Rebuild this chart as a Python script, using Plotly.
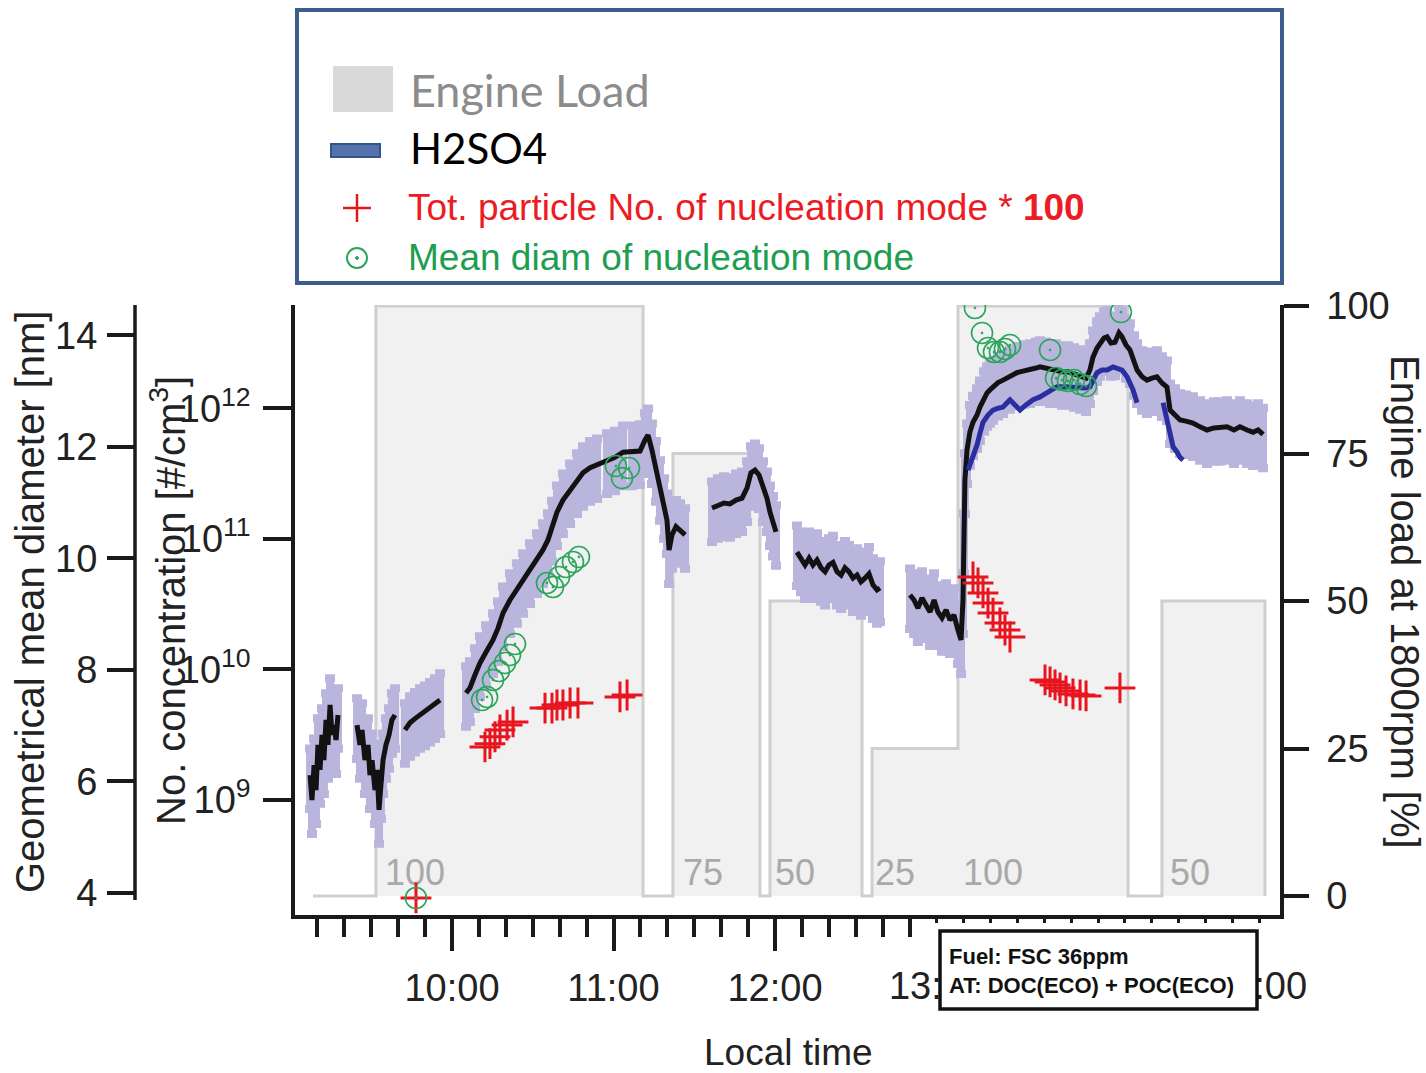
import plotly.graph_objects as go

W, H = 1426, 1073
FONT = "Liberation Sans, Arial, sans-serif"
AX = "#1a1a1a"

# ---------------- data ----------------
# Engine load step profile (local time in decimal hours, % load)
load_time = [9.139, 9.529, 11.183, 11.368, 11.907, 11.969, 12.539, 12.601, 13.133, 14.186, 14.396, 15.034]
load_pct = [0, 100, 0, 75, 0, 50, 0, 25, 100, 0, 50, 0]
load_label_time = [9.771, 11.554, 12.124, 12.743, 13.350, 14.570]
load_label_text = ["100", "75", "50", "25", "100", "50"]

# Total number concentration (black trace, #/cm3); None separates segments
conc_time = [
    9.121, 9.133, 9.146, 9.158, 9.170, 9.183, 9.195, 9.207, 9.220, 9.232, 9.245, 9.257, 9.269, 9.282, 9.294, None,
    9.412, 9.430, 9.443, 9.461, 9.480, 9.492, 9.505, 9.523, 9.536, 9.548, 9.560, 9.573, 9.591, 9.610, 9.628, 9.647, None,
    9.709, 9.740, 9.771, 9.802, 9.833, 9.864, 9.895, 9.926, None,
    10.087, 10.111, 10.142, 10.173, 10.211, 10.254, 10.285, 10.316, 10.359, 10.402, 10.440, 10.483, 10.526, 10.563,
    10.594, 10.619, 10.650, 10.687, 10.731, 10.774, 10.811, 10.855, 10.898, 10.960, 11.009, 11.059, 11.115, 11.164,
    11.195, 11.214, 11.238, 11.263, 11.288, 11.313, 11.331, 11.344, 11.362, 11.387, 11.412, 11.443, None,
    11.610, 11.647, 11.684, 11.721, 11.759, 11.796, 11.827, 11.851, 11.876, 11.901, 11.926, 11.950, 11.969, 11.988, 12.006, None,
    12.136, 12.161, 12.186, 12.211, 12.235, 12.260, 12.285, 12.310, 12.334, 12.359, 12.384, 12.409, 12.433, 12.458,
    12.483, 12.508, 12.532, 12.557, 12.582, 12.607, 12.632, 12.650, None,
    12.836, 12.861, 12.885, 12.910, 12.935, 12.960, 12.985, 13.009, 13.034, 13.059, 13.084, 13.108, 13.133, 13.152,
    13.164, 13.170, 13.176, 13.189, 13.207, 13.226, 13.251, 13.269, 13.294, 13.313, 13.331, 13.350, 13.381, 13.412,
    13.455, 13.498, 13.542, 13.579, 13.616, 13.641, 13.678, 13.703, 13.740, 13.777, 13.814, 13.851, 13.889, 13.926,
    13.950, 13.969, 13.994, 14.012, 14.037, 14.056, 14.080, 14.105, 14.130, 14.149, 14.173, 14.198, 14.223, 14.242,
    14.273, 14.303, 14.334, 14.365, 14.396, 14.427, 14.446, 14.477, 14.508, 14.545, 14.588, 14.632, 14.675, 14.718,
    14.755, 14.799, 14.842, 14.879, 14.923, 14.960, 14.991, 15.022,
]
conc_val = [
    1.55e9, 1.0e9, 1.85e9, 1.19e9, 2.64e9, 1.70e9, 3.15e9, 2.02e9, 4.10e9, 2.64e9, 5.34e9, 3.15e9, 3.75e9, 2.88e9, 4.48e9, None,
    3.75e9, 2.64e9, 3.44e9, 2.02e9, 2.64e9, 1.55e9, 2.02e9, 1.19e9, 1.70e9, 8.4e8, 1.30e9, 2.02e9, 2.64e9, 3.15e9, 4.10e9, 4.48e9, None,
    3.44e9, 3.9e9, 4.2e9, 4.48e9, 4.7e9, 5.0e9, 5.34e9, 5.83e9, None,
    6.6e9, 7.2e9, 9.06e9, 1.12e10, 1.36e10, 1.68e10, 2.07e10, 2.70e10, 3.40e10, 4.06e10, 4.84e10, 5.77e10, 6.88e10, 8.21e10,
    9.80e10, 1.22e11, 1.60e11, 1.98e11, 2.36e11, 2.82e11, 3.2e11, 3.5e11, 3.67e11, 4.01e11, 4.2e11, 4.6e11, 4.6e11, 4.7e11,
    5.71e11, 6.23e11, 4.78e11, 3.5e11, 2.5e11, 1.82e11, 1.39e11, 8.21e10, 1.07e11, 1.24e11, 1.17e11, 1.07e11, None,
    1.72e11, 1.82e11, 1.88e11, 1.85e11, 1.98e11, 2.05e11, 2.45e11, 3.2e11, 3.36e11, 3.08e11, 2.45e11, 2.05e11, 1.60e11, 1.33e11, 1.13e11, None,
    7.9e10, 7.1e10, 6.30e10, 7.1e10, 6.30e10, 6.88e10, 6.0e10, 5.6e10, 6.30e10, 6.6e10, 5.6e10, 5.28e10, 6.0e10, 5.6e10,
    5.0e10, 5.28e10, 4.68e10, 5.0e10, 5.4e10, 4.43e10, 4.06e10, 4.2e10, None,
    3.71e10, 3.40e10, 2.95e10, 3.52e10, 3.11e10, 2.75e10, 3.40e10, 2.75e10, 2.48e10, 2.85e10, 2.39e10, 2.61e10, 2.00e10, 1.68e10,
    3.40e10, 9.80e10, 2.82e11, 4.78e11, 6.6e11, 7.8e11, 8.87e11, 1.02e12, 1.20e12, 1.31e12, 1.38e12, 1.46e12, 1.57e12, 1.64e12,
    1.77e12, 1.87e12, 1.93e12, 1.96e12, 2.03e12, 2.07e12, 2.03e12, 1.96e12, 1.96e12, 1.90e12, 1.90e12, 1.83e12, 1.77e12, 1.70e12,
    1.96e12, 2.46e12, 2.89e12, 3.16e12, 3.45e12, 3.52e12, 3.16e12, 3.2e12, 3.77e12, 3.52e12, 3.05e12, 2.79e12, 2.26e12, 1.96e12,
    1.74e12, 1.64e12, 1.70e12, 1.74e12, 1.56e12, 1.45e12, 9.68e11, 8.87e11, 8.12e11, 7.97e11, 7.7e11, 7.2e11, 6.81e11, 7.06e11,
    7.06e11, 7.2e11, 6.81e11, 7.2e11, 6.81e11, 6.55e11, 6.81e11, 6.3e11,
]

# H2SO4 (blue trace, #/cm3)
h2so4_time = [
    13.195, 13.220, 13.238, 13.251, 13.269, 13.288, 13.319, 13.350, 13.381, 13.412, 13.437, 13.455, 13.486, 13.517,
    13.554, 13.598, 13.641, 13.684, 13.715, 13.746, 13.796, 13.858, 13.920, 13.950, 13.969, 13.994, 14.025, 14.056,
    14.093, 14.124, 14.149, 14.180, 14.198, 14.217, 14.242, None,
    14.403, 14.427, 14.446, 14.465, 14.490, 14.508, 14.527,
]
h2so4_val = [
    3.36e11, 4.01e11, 4.78e11, 5.23e11, 6.4e11, 7.8e11, 8.87e11, 9.68e11, 1.00e12, 1.02e12, 1.10e12, 1.16e12, 1.06e12, 9.68e11,
    1.06e12, 1.16e12, 1.22e12, 1.31e12, 1.38e12, 1.46e12, 1.46e12, 1.43e12, 1.43e12, 1.46e12, 1.64e12, 1.87e12, 1.96e12, 1.96e12,
    2.07e12, 2.03e12, 1.96e12, 1.74e12, 1.56e12, 1.38e12, 1.10e12, None,
    1.10e12, 8.12e11, 6.0e11, 5.06e11, 4.6e11, 4.2e11, 4.01e11,
]

# Total particle number of nucleation mode * 100 (red crosses, #/cm3)
nuc_num_time = [9.777, 10.204, 10.235, 10.266, 10.297, 10.341, 10.378, 10.576, 10.619, 10.650, 10.687, 10.731, 10.780,
                11.040, 11.084, 13.226, 13.257, 13.288, 13.319, 13.350, 13.393, 13.424, 13.455, 13.672, 13.703, 13.734,
                13.765, 13.802, 13.845, 13.889, 13.926, 14.136]
nuc_num_val = [1.78e8, 2.55e9, 2.7e9, 3.05e9, 3.44e9, 3.75e9, 3.96e9, 5.06e9, 5.06e9, 5.34e9, 5.34e9, 5.53e9, 5.53e9,
               6.15e9, 6.37e9, 5.10e10, 4.59e10, 3.85e10, 3.22e10, 2.70e10, 2.27e10, 2.00e10, 1.77e10, 8.30e9, 8.02e9, 7.60e9,
               7.21e9, 6.84e9, 6.49e9, 6.37e9, 6.26e9, 7.21e9]

# Mean diameter of nucleation mode (green circles, nm)
nuc_diam_time = [9.777, 10.186, 10.217, 10.254, 10.291, 10.328, 10.359, 10.390, 10.588, 10.625, 10.663, 10.706, 10.749,
                 10.786, 11.015, 11.053, 11.096, 13.238, 13.282, 13.319, 13.356, 13.393, 13.424, 13.455, 13.703, 13.740,
                 13.777, 13.814, 13.851, 13.889, 13.926, 14.142]
nuc_diam_val = [3.905, 7.457, 7.511, 7.816, 7.977, 8.121, 8.264, 8.462, 9.556, 9.484, 9.664, 9.843, 9.933,
                10.023, 11.654, 11.438, 11.618, 14.490, 14.041, 13.772, 13.700, 13.700, 13.754, 13.826, 13.736, 13.233,
                13.197, 13.179, 13.197, 13.125, 13.089, 14.417]

hour_ticks = [10, 11, 12]
hour_labels = ["10:00", "11:00", "12:00"]
late_ticks = [13 + k / 6 for k in range(13)]
late_labels = ["13:00" if k == 0 else "14:00" if k == 6 else "15:00" if k == 12 else "" for k in range(13)]
minor_ticks = [9 + k / 6 for k in range(1, 24) if k % 6]
conc_ticks = [1e9, 1e10, 1e11, 1e12]
conc_labels = ["10<sup>9</sup>", "10<sup>10</sup>", "10<sup>11</sup>", "10<sup>12</sup>"]
diam_ticks = [4, 6, 8, 10, 12, 14]
load_ticks = [0, 25, 50, 75, 100]

X_RANGE = [9.02786, 15.12693]


def px(x):
    return x / W


def py(y):
    return 1 - y / H


fig = go.Figure()

# engine load (main y, right side)
fig.add_trace(go.Scatter(
    x=load_time, y=load_pct, mode="lines", line=dict(shape="hv", color="#cfcfcf", width=3),
    fill="tozeroy", fillcolor="#f1f1f1", hoverinfo="skip", xaxis="x", yaxis="y"))
fig.add_trace(go.Scatter(
    x=load_label_time, y=[3.4] * len(load_label_text), mode="text", text=load_label_text,
    textfont=dict(family=FONT, size=36, color="#a9a9a9"), textposition="middle center",
    hoverinfo="skip", xaxis="x", yaxis="y"))

# uncertainty band (error bars) + black trace
fig.add_trace(go.Scatter(
    x=conc_time, y=conc_val, mode="markers", marker=dict(size=1, color="rgba(0,0,0,0)"),
    error_y=dict(type="percent", symmetric=False, value=60, valueminus=45, color="#b9b5dd", thickness=8, width=5),
    hoverinfo="skip", xaxis="x", yaxis="y2"))
fig.add_trace(go.Scatter(
    x=conc_time, y=conc_val, mode="lines", line=dict(color="#121212", width=5),
    connectgaps=False, xaxis="x", yaxis="y2"))
fig.add_trace(go.Scatter(
    x=h2so4_time, y=h2so4_val, mode="lines", line=dict(color="#2b2e9e", width=5),
    connectgaps=False, xaxis="x", yaxis="y2"))
fig.add_trace(go.Scatter(
    x=nuc_num_time, y=nuc_num_val, mode="markers",
    marker=dict(symbol="cross-thin-open", size=22, color="#e8141e", line=dict(width=3, color="#e8141e")),
    xaxis="x", yaxis="y2"))
fig.add_trace(go.Scatter(
    x=nuc_diam_time, y=nuc_diam_val, mode="markers",
    marker=dict(symbol="circle-open-dot", size=21, color="#2aa55a", line=dict(width=1.6, color="#2aa55a")),
    xaxis="x", yaxis="y3"))
# invisible anchor for the secondary (late) time axis
fig.add_trace(go.Scatter(x=[13.0], y=[0], mode="markers", marker=dict(opacity=0), hoverinfo="skip",
                         xaxis="x2", yaxis="y"))

tickfont = dict(family=FONT, size=38, color="#222222")
common = dict(showgrid=False, zeroline=False, automargin=False, tickfont=tickfont,
              tickcolor=AX, linecolor=AX, tickangle=0)

fig.update_layout(
    width=W, height=H, margin=dict(l=0, r=0, t=0, b=0, pad=0),
    paper_bgcolor="white", plot_bgcolor="rgba(0,0,0,0)", showlegend=False,
    font=dict(family=FONT, color="#222222"),
    xaxis=dict(domain=[px(295), px(1280)], range=X_RANGE, anchor="y",
               tickmode="array", tickvals=hour_ticks, ticktext=hour_labels,
               ticks="outside", ticklen=32, tickwidth=3.5, showline=True, linewidth=3.5,
               ticklabelstandoff=5,
               minor=dict(tickmode="array", tickvals=minor_ticks, ticks="outside", ticklen=18,
                          tickwidth=3.5, tickcolor=AX, showgrid=False),
               **common),
    xaxis2=dict(overlaying="x", anchor="y", side="bottom", range=X_RANGE,
                tickmode="array", tickvals=late_ticks, ticktext=late_labels,
                ticks="outside", ticklen=7, tickwidth=3, showline=False,
                ticklabelstandoff=30, **common),
    yaxis=dict(domain=[py(915), py(305)], range=[-3.22, 100.17], side="right", anchor="x",
               tickmode="array", tickvals=load_ticks, ticks="outside", ticklen=25, tickwidth=3.5,
               showline=True, linewidth=3.5, ticklabelstandoff=10, **common),
    yaxis2=dict(overlaying="y", side="left", anchor="x", type="log", range=[8.1194, 12.7902],
                tickmode="array", tickvals=conc_ticks, ticktext=conc_labels,
                ticks="outside", ticklen=28, tickwidth=3.5, showline=True, linewidth=3.5,
                ticklabelstandoff=5, **common),
    yaxis3=dict(overlaying="y", side="left", anchor="free", position=px(135), range=[3.6, 14.543],
                tickmode="array", tickvals=diam_ticks, ticks="outside", ticklen=28, tickwidth=4,
                showline=False, ticklabelstandoff=2, **common),
)

shapes = []
# diameter axis line
shapes.append(dict(type="line", xref="paper", yref="paper", x0=px(135), x1=px(135), y0=py(900), y1=py(305),
                   line=dict(color=AX, width=3.5)))
# legend box
shapes.append(dict(type="rect", xref="paper", yref="paper", x0=px(297), x1=px(1282), y0=py(283), y1=py(10),
                   line=dict(color="#3c5c8c", width=4), fillcolor="white", layer="above"))
shapes.append(dict(type="rect", xref="paper", yref="paper", x0=px(333), x1=px(393), y0=py(112), y1=py(66),
                   line=dict(width=0), fillcolor="#d9d9d9", layer="above"))
shapes.append(dict(type="rect", xref="paper", yref="paper", x0=px(331), x1=px(380), y0=py(157), y1=py(144),
                   line=dict(color="#34558c", width=2), fillcolor="#5473ae", layer="above"))
shapes.append(dict(type="line", xref="paper", yref="paper", x0=px(343), x1=px(371), y0=py(208), y1=py(208),
                   line=dict(color="#e8141e", width=2.5), layer="above"))
shapes.append(dict(type="line", xref="paper", yref="paper", x0=px(357), x1=px(357), y0=py(222), y1=py(194),
                   line=dict(color="#e8141e", width=2.5), layer="above"))
shapes.append(dict(type="circle", xref="paper", yref="paper", x0=px(347), x1=px(367), y0=py(268), y1=py(248),
                   line=dict(color="#2aa55a", width=2), layer="above"))
shapes.append(dict(type="circle", xref="paper", yref="paper", x0=px(355.5), x1=px(358.5), y0=py(259.5), y1=py(256.5),
                   line=dict(color="#2aa55a", width=1), fillcolor="#2aa55a", layer="above"))
# fuel box
shapes.append(dict(type="rect", xref="paper", yref="paper", x0=px(940), x1=px(1257), y0=py(1009), y1=py(931),
                   line=dict(color="#111111", width=3.5), fillcolor="white", layer="above"))

annotations = []


def ann(text, x, y, size, color="#222222", family=FONT, xanchor="left", angle=0, align="left"):
    annotations.append(dict(text=text, x=px(x), y=py(y), xref="paper", yref="paper", showarrow=False,
                            xanchor=xanchor, yanchor="middle", textangle=angle, align=align,
                            font=dict(family=family, size=size, color=color)))


LEG = "Lato, Noto Sans, sans-serif"
ann("Engine Load", 408, 90, 45, color="#8c8c8c", family=LEG)
ann("H2SO4", 408, 148, 42, color="#000000", family=LEG)
ann("Tot. particle No. of nucleation mode * <b>100</b>", 406, 207, 37, color="#ec1c24")
ann("Mean diam of nucleation mode", 406, 258, 37, color="#1e9e50")
ann("Geometrical mean diameter [nm]", 30, 602, 40, xanchor="center", angle=-90)
ann("No. concentration [#/cm<sup>3</sup>]", 168, 601, 40, xanchor="center", angle=-90)
ann("Engine load at 1800rpm [%]", 1405, 602, 40, xanchor="center", angle=90)
ann("Local time", 788, 1052, 37, xanchor="center")
ann("Fuel: FSC 36ppm<br>AT: DOC(ECO) + POC(ECO)", 947, 971, 22, color="#111111")
annotations[-1]["font"]["weight"] = "bold"

fig.update_layout(shapes=shapes, annotations=annotations)

fig.write_html("out.html")
